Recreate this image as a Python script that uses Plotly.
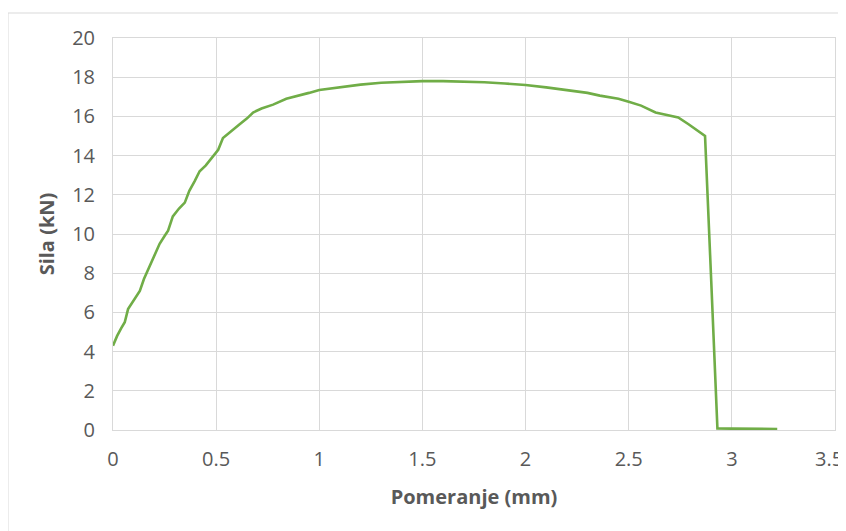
import plotly.graph_objects as go

displacement_mm = [0, 0.02, 0.04, 0.057, 0.073, 0.10, 0.13, 0.15, 0.17, 0.20, 0.226, 0.25, 0.267,
                   0.29, 0.32, 0.348, 0.37, 0.396, 0.42, 0.45, 0.485, 0.51, 0.533, 0.57, 0.614,
                   0.65, 0.679, 0.72, 0.776, 0.84, 0.905, 0.95, 1.0, 1.1, 1.2, 1.3, 1.4, 1.5,
                   1.6, 1.7, 1.8, 1.9, 2.0, 2.1, 2.2, 2.3, 2.36, 2.45, 2.5, 2.56, 2.63, 2.68,
                   2.74, 2.79, 2.87, 2.90, 2.93, 3.0, 3.1, 3.22]
force_kN = [4.3, 4.8, 5.2, 5.5, 6.17, 6.6, 7.1, 7.7, 8.2, 8.9, 9.5, 9.9, 10.17,
            10.9, 11.3, 11.6, 12.2, 12.7, 13.2, 13.5, 14.0, 14.3, 14.9, 15.2, 15.6,
            15.9, 16.2, 16.4, 16.6, 16.9, 17.06, 17.2, 17.35, 17.5, 17.62, 17.72, 17.77, 17.8,
            17.8, 17.78, 17.74, 17.68, 17.6, 17.48, 17.35, 17.2, 17.06, 16.9, 16.75, 16.55, 16.2, 16.1,
            15.95, 15.6, 15.0, 7.6, 0.08, 0.07, 0.06, 0.05]

x_ticks = [0, 0.5, 1, 1.5, 2, 2.5, 3, 3.5]
x_tick_labels = ["0", "0.5", "1", "1.5", "2", "2.5", "3", "3.5"]
y_ticks = [0, 2, 4, 6, 8, 10, 12, 14, 16, 18, 20]
y_tick_labels = [str(v) for v in y_ticks]

# page has an 8px body margin, so the figure is drawn 8px lower/right
W, H = 838, 523
L, T = 105, 30
pw, ph = 722, 392
R = W - L - pw
B = H - T - ph

fig = go.Figure()
fig.add_trace(go.Scatter(x=displacement_mm, y=force_kN, mode="lines",
                         line=dict(color="#70AD47", width=2.6), showlegend=False))

grid = "#d9d9d9"
tickfont = dict(family="Open Sans", size=20, color="#595959")
titlefont = dict(family="Open Sans", size=20, color="#595959", weight="bold")

# last x tick label sits at the page edge: draw it right-aligned so it stays visible
shown_x_labels = x_tick_labels[:-1] + [""]

fig.update_layout(
    width=W, height=H,
    margin=dict(l=L, r=R, t=T, b=B, autoexpand=False),
    paper_bgcolor="white", plot_bgcolor="white",
    xaxis=dict(range=[0, 3.5], tickvals=x_ticks, ticktext=shown_x_labels,
               showgrid=True, gridcolor=grid, gridwidth=1, zeroline=False,
               showline=True, linecolor=grid, linewidth=1, mirror=True,
               tickfont=tickfont, ticklabelstandoff=11, ticklabeloverflow="allow",
               automargin=False,
               title=dict(text="<b>Pomeranje (mm)</b>", font=titlefont, standoff=18)),
    yaxis=dict(range=[0, 20], tickvals=y_ticks, ticktext=y_tick_labels,
               showgrid=True, gridcolor=grid, gridwidth=1, zeroline=False,
               showline=True, linecolor=grid, linewidth=1, mirror=True,
               tickfont=tickfont, ticklabelstandoff=13, automargin=False,
               title=dict(text="<b>Sila (kN)</b>", font=titlefont, standoff=12)),
)

fig.add_annotation(text=x_tick_labels[-1], xref="paper", yref="paper",
                   x=(W - 1 - L) / pw, y=-28 / ph, xanchor="right", yanchor="middle",
                   showarrow=False, font=tickfont)

# outer chart frame (cropped at right and bottom in the reference)
x0 = (0 - L) / pw
y1 = 1 + (T - 5) / ph
fig.add_shape(type="rect", xref="paper", yref="paper",
              x0=x0, x1=1 + (R + 20) / pw,
              y0=-(B + 20) / ph, y1=y1,
              line=dict(color="#d9d9d9", width=1), fillcolor="rgba(0,0,0,0)", layer="below")

fig.write_html("out.html")
